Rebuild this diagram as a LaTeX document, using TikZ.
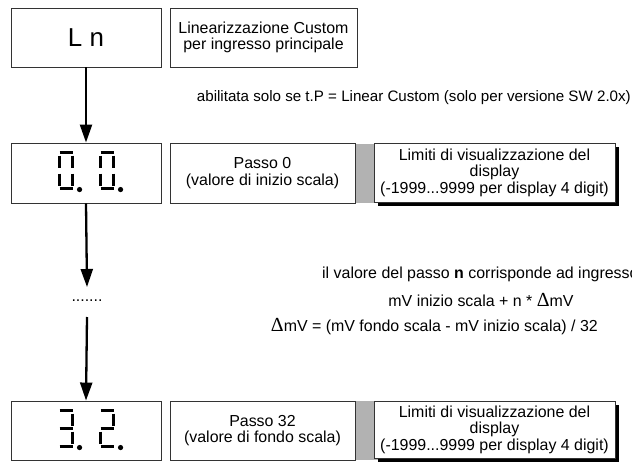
\documentclass[tikz,border=0pt]{standalone}
\usepackage{fontspec}
\setmainfont{Liberation Sans}
\newfontfamily\deltafont{Liberation Serif}
\usetikzlibrary{arrows.meta}

\tikzset{
  box/.style={draw=black!80, line width=0.9bp, fill=white, inner sep=0pt,
    align=center, font=\fontsize{16}{16.5}\selectfont},
  shadowbox/.style={box, preaction={draw=none, fill=black,
    transform canvas={shift={(4bp,-4bp)}}}},
  note/.style={inner sep=0pt, font=\fontsize{16}{17}\selectfont},
  flow/.style={line width=2.3bp, -{Triangle[width=12bp,length=18bp]}},
  seg/.style={line width=2.6bp},
  % seven-segment digits, 13 wide and 36 tall, with decimal point
  pics/dzero/.style={code={
    \draw[seg] (0,0)--(13,0) (13,3)--(13,15) (13,21)--(13,33)
      (0,36)--(13,36) (0,21)--(0,33) (0,3)--(0,15);
    \fill (20,37) circle (2.6);}},
  pics/dthree/.style={code={
    \draw[seg] (0,0)--(13,0) (13,3)--(13,15) (0,18)--(13,18)
      (13,21)--(13,33) (0,36)--(13,36);
    \fill (20,37) circle (2.6);}},
  pics/dtwo/.style={code={
    \draw[seg] (0,0)--(13,0) (13,3)--(13,15) (0,18)--(13,18)
      (0,21)--(0,33) (0,36)--(13,36);
    \fill (20,37) circle (2.6);}},
}

\begin{document}
\begin{tikzpicture}[x=1bp, y=-1bp]
\useasboundingbox (0,0) rectangle (632,462);
\clip (0,0) rectangle (632,462);

% top row
\node[box, minimum width=150bp, minimum height=59bp] (ln) at (86,37.5)
  {\fontsize{26}{26}\selectfont L n};
\node[box, minimum width=187bp, minimum height=59bp] (title) at (263.5,37.5)
  {Linearizzazione Custom\\per ingresso principale};
\node[note, anchor=east, font=\fontsize{15.2}{16}\selectfont] (cond) at (631,98)
  {abilitata solo se t.P = Linear Custom (solo per versione SW 2.0x)};

% step 0 row
\fill[black!30] (354,144) rectangle (378,203);
\node[box, minimum width=150bp, minimum height=60bp] (disp0) at (86,173) {};
\node[box, minimum width=185bp, minimum height=60bp] (step0) at (262.5,173)
  {Passo 0\\(valore di inizio scala)};
\node[shadowbox, minimum width=241bp, minimum height=59bp] (lim0) at (494.5,172.5)
  {Limiti di visualizzazione del\\display\\(-1999...9999 per display 4 digit)};
\path (disp0.north west) ++(49,10) pic {dzero};
\path (disp0.north west) ++(90,10) pic {dzero};

% intermediate steps
\node[note] (dots) at (87,301) {.......};
\coordinate (gapTop) at (87,287);
\coordinate (gapBot) at (87,317);
\node[note, anchor=west] (rule1) at (322,274)
  {il valore del passo \textbf{n} corrisponde ad ingresso};
\node[note] (rule2) at (481,300)
  {mV inizio scala + n * {\deltafont\fontsize{20}{20}\selectfont Δ}mV};
\node[note, anchor=east] (rule3) at (598,327)
  {{\deltafont\fontsize{20}{20}\selectfont Δ}mV = (mV fondo scala - mV inizio scala) / 32};

% step 32 row
\fill[black!30] (354,401) rectangle (378,460);
\node[box, minimum width=150bp, minimum height=59bp] (disp32) at (86,430.5) {};
\node[box, minimum width=185bp, minimum height=59bp] (step32) at (262.5,430.5)
  {Passo 32\\(valore di fondo scala)};
\node[shadowbox, minimum width=241bp, minimum height=57bp] (lim32) at (494.5,429.5)
  {Limiti di visualizzazione del\\display\\(-1999...9999 per display 4 digit)};
\path (disp32.north west) ++(49,10) pic {dthree};
\path (disp32.north west) ++(90,10) pic {dtwo};

% flow arrows
\draw[flow] (ln.south) -- (disp0.north);
\draw[flow] (disp0.south) -- (gapTop);
\draw[flow] (gapBot) -- (disp32.north);
\end{tikzpicture}
\end{document}
